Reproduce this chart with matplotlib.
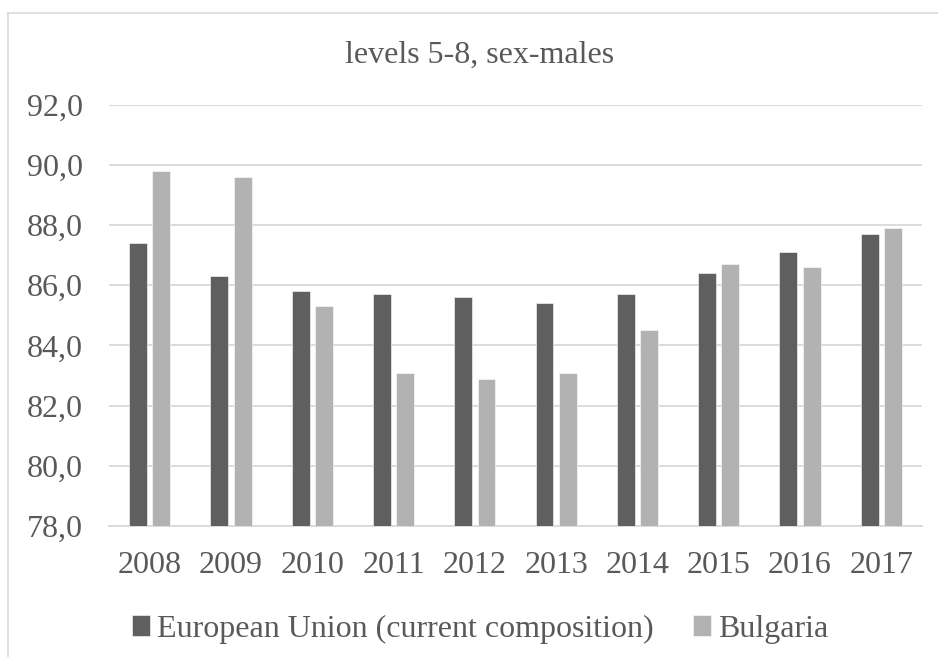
import numpy as np
import matplotlib.pyplot as plt
from matplotlib.lines import Line2D
from matplotlib.ticker import FuncFormatter

years = ['2008', '2009', '2010', '2011', '2012', '2013', '2014', '2015', '2016', '2017']
eu_vals = [87.4, 86.3, 85.8, 85.7, 85.6, 85.4, 85.7, 86.4, 87.1, 87.7]
bg_vals = [89.8, 89.6, 85.3, 83.1, 82.9, 83.1, 84.5, 86.7, 86.6, 87.9]
series_names = ['European Union (current composition)', 'Bulgaria']

plt.rcParams['font.family'] = ['Liberation Serif', 'DejaVu Serif']
txt_color = '#595959'
grid_color = '#d9d9d9'
eu_color = '#5f5f5f'
bg_color = '#b2b2b2'

W, H = 938, 657
fig = plt.figure(figsize=(W / 100, H / 100), dpi=100)
ax = fig.add_axes([109 / W, 1 - 526 / H, (922 - 109) / W, (526 - 104.7) / H])

x = np.arange(len(years))
bw = 0.22
off = 0.143
ax.bar(x - off, eu_vals, bw, color=eu_color, edgecolor='white', lw=0.4,
       label=series_names[0], zorder=3)
ax.bar(x + off, bg_vals, bw, color=bg_color, edgecolor='white', lw=0.4,
       label=series_names[1], zorder=3)

ax.set_xlim(-0.5, len(years) - 0.5)
ax.set_ylim(78, 92)
ax.set_yticks(np.arange(78, 93, 2))
ax.yaxis.set_major_formatter(FuncFormatter(lambda v, p: ('%.1f' % v).replace('.', ',')))
ax.set_xticks(x)
ax.set_xticklabels(years)
ax.tick_params(axis='both', length=0, labelsize=23, labelcolor=txt_color)
ax.tick_params(axis='y', pad=19)
ax.tick_params(axis='x', pad=18)

ax.grid(True, axis='y', color=grid_color, lw=1.3, zorder=0)
ax.set_axisbelow(True)
for s in ['top', 'right', 'left']:
    ax.spines[s].set_visible(False)
ax.spines['bottom'].set_color(grid_color)
ax.spines['bottom'].set_linewidth(1.3)

fig.text(480 / W, 1 - 55 / H, 'levels 5-8, sex-males', ha='center', va='center',
         fontsize=23, color=txt_color)

handles, labels = ax.get_legend_handles_labels()
leg = fig.legend(handles, labels, loc='center', bbox_to_anchor=(480 / W, 1 - 629 / H),
                 ncol=2, frameon=False, fontsize=23, handlelength=0.56, handleheight=0.65,
                 handletextpad=0.22, columnspacing=1.25, borderpad=0, borderaxespad=0)
for t in leg.get_texts():
    t.set_color(txt_color)

# outer chart border (only top and left visible in the crop)
fig.add_artist(Line2D([8 / W, 1], [1 - 13 / H, 1 - 13 / H], color=grid_color, lw=1.2))
fig.add_artist(Line2D([8 / W, 8 / W], [0, 1 - 13 / H], color=grid_color, lw=1.2))

fig.savefig('out.png', dpi=100)
